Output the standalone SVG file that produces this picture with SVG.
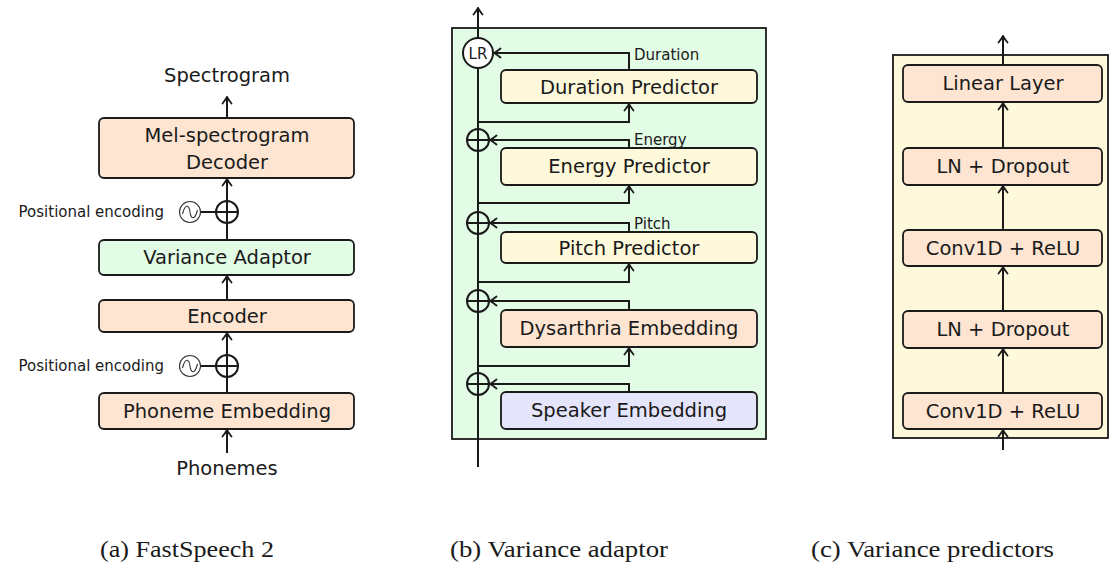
<svg xmlns="http://www.w3.org/2000/svg" width="1110" height="568" viewBox="0 0 1110 568">
  <style>
    .box { stroke: #1a1a1a; stroke-width: 1.8; }
    .orange { fill: #fde5d2; }
    .green { fill: #e2fce5; }
    .yellow { fill: #fff9db; }
    .blue { fill: #e4e4fb; }
    .lbl { font-family: "DejaVu Sans", sans-serif; font-size: 19.5px; fill: #1a1a1a; text-anchor: middle; }
    .small { font-family: "DejaVu Sans", sans-serif; font-size: 15px; fill: #1a1a1a; }
    .cap { font-family: "Liberation Serif", serif; font-size: 24px; fill: #1a1a1a; }
    .wire { stroke: #1a1a1a; stroke-width: 2; fill: none; }
    .arr { stroke: #1a1a1a; stroke-width: 2; fill: none; marker-end: url(#head); }
    .op { stroke: #1a1a1a; stroke-width: 2; fill: none; }
    .sine { stroke: #333; stroke-width: 1.1; fill: #fff; }
  </style>
  <defs>
    <marker id="head" viewBox="-8 -6 9 12" refX="0" refY="0" markerWidth="9" markerHeight="12" markerUnits="userSpaceOnUse" orient="auto">
      <path d="M -6.5 -4.5 Q -2.5 -1.2 0 0 Q -2.5 1.2 -6.5 4.5" fill="none" stroke="#1a1a1a" stroke-width="1.8" stroke-linecap="round"/>
    </marker>
    <g id="oplus">
      <circle r="11" class="op"/>
      <path d="M -11 0 H 11 M 0 -11 V 11" class="op"/>
    </g>
    <g id="sinewave">
      <circle r="10.5" class="sine"/>
      <path d="M -7.5 2 C -5 -8, -1 -8, 0 0 C 1 8, 5 8, 7.5 -2" fill="none" stroke="#333" stroke-width="1.1"/>
    </g>
  </defs>

  <rect width="1110" height="568" fill="#ffffff"/>

  <!-- (a) FastSpeech 2 -->
  <g id="fs2-connectors">
    <path class="arr" d="M 227 118 V 97"/>
    <path class="arr" d="M 227 240 V 179"/>
    <path class="arr" d="M 227 300 V 276"/>
    <path class="arr" d="M 227 393 V 333"/>
    <path class="arr" d="M 227 453 V 430"/>
    <path class="wire" d="M 200 212 H 216 M 200 366 H 216" stroke-width="1.6"/>
  </g>
  <g id="spectrogram-label"><text class="lbl" x="227" y="82" font-size="19">Spectrogram</text></g>
  <g id="mel-decoder">
    <rect class="box orange" x="99" y="118" width="255" height="60" rx="5"/>
    <text class="lbl" x="227" y="142">Mel-spectrogram</text>
    <text class="lbl" x="227" y="169">Decoder</text>
  </g>
  <g id="posenc-top">
    <use href="#oplus" x="227" y="212"/>
    <use href="#sinewave" x="190" y="212"/>
    <text class="small" x="164" y="217" text-anchor="end" font-size="15.5">Positional encoding</text>
  </g>
  <g id="variance-adaptor">
    <rect class="box green" x="99" y="240" width="255" height="35" rx="5"/>
    <text class="lbl" x="227" y="264">Variance Adaptor</text>
  </g>
  <g id="encoder">
    <rect class="box orange" x="99" y="300" width="255" height="32" rx="5"/>
    <text class="lbl" x="227" y="323">Encoder</text>
  </g>
  <g id="posenc-bottom">
    <use href="#oplus" x="227" y="366"/>
    <use href="#sinewave" x="190" y="366"/>
    <text class="small" x="164" y="371" text-anchor="end" font-size="15.5">Positional encoding</text>
  </g>
  <g id="phoneme-embedding">
    <rect class="box orange" x="99" y="393" width="255" height="36" rx="5"/>
    <text class="lbl" x="227" y="418">Phoneme Embedding</text>
  </g>
  <g id="phonemes-label"><text class="lbl" x="227" y="475" font-size="17.5">Phonemes</text></g>

  <!-- (b) Variance adaptor -->
  <g id="adaptor-frame">
    <rect class="box green" x="452" y="28" width="314" height="411"/>
  </g>
  <g id="adaptor-connectors">
    <path class="arr" d="M 478 467 V 8"/>
    <!-- feeds from the main path into each predictor -->
    <path class="arr" d="M 478 122 H 629 V 104"/>
    <path class="arr" d="M 478 203 H 629 V 186"/>
    <path class="arr" d="M 478 282 H 629 V 264"/>
    <path class="arr" d="M 478 366 H 629 V 348"/>
    <!-- predictor outputs back to the main path -->
    <path class="arr" d="M 629 70 V 53 H 494"/>
    <path class="arr" d="M 629 148 V 140 H 490"/>
    <path class="arr" d="M 629 232 V 223 H 490"/>
    <path class="arr" d="M 629 310 V 301 H 490"/>
    <path class="arr" d="M 629 392 V 384 H 490"/>
    <text class="small" x="634" y="60">Duration</text>
    <text class="small" x="634" y="145">Energy</text>
    <text class="small" x="634" y="229">Pitch</text>
  </g>
  <g id="length-regulator">
    <circle cx="478" cy="53" r="15" fill="#ffffff" stroke="#1a1a1a" stroke-width="2"/>
    <text class="small" x="478" y="59" text-anchor="middle" font-size="16">LR</text>
  </g>
  <g id="add-energy"><use href="#oplus" x="478" y="140"/></g>
  <g id="add-pitch"><use href="#oplus" x="478" y="223"/></g>
  <g id="add-dysarthria"><use href="#oplus" x="478" y="301"/></g>
  <g id="add-speaker"><use href="#oplus" x="478" y="384"/></g>
  <g id="duration-predictor">
    <rect class="box yellow" x="501" y="70" width="256" height="33" rx="5"/>
    <text class="lbl" x="629" y="94">Duration Predictor</text>
  </g>
  <g id="energy-predictor">
    <rect class="box yellow" x="501" y="148" width="256" height="37" rx="5"/>
    <text class="lbl" x="629" y="173">Energy Predictor</text>
  </g>
  <g id="pitch-predictor">
    <rect class="box yellow" x="501" y="232" width="256" height="31" rx="5"/>
    <text class="lbl" x="629" y="255">Pitch Predictor</text>
  </g>
  <g id="dysarthria-embedding">
    <rect class="box orange" x="501" y="310" width="256" height="37" rx="5"/>
    <text class="lbl" x="629" y="335">Dysarthria Embedding</text>
  </g>
  <g id="speaker-embedding">
    <rect class="box blue" x="501" y="392" width="256" height="37" rx="5"/>
    <text class="lbl" x="629" y="417">Speaker Embedding</text>
  </g>

  <!-- (c) Variance predictors -->
  <g id="predictor-frame">
    <rect class="box yellow" x="893" y="55" width="215" height="383"/>
  </g>
  <g id="predictor-connectors">
    <path class="arr" d="M 1003 65 V 36"/>
    <path class="arr" d="M 1003 148 V 103"/>
    <path class="arr" d="M 1003 230 V 186"/>
    <path class="arr" d="M 1003 311 V 267"/>
    <path class="arr" d="M 1003 393 V 349"/>
    <path class="arr" d="M 1003 450 V 430"/>
  </g>
  <g id="linear-layer">
    <rect class="box orange" x="903" y="65" width="199" height="37" rx="5"/>
    <text class="lbl" x="1003" y="90">Linear Layer</text>
  </g>
  <g id="ln-dropout-2">
    <rect class="box orange" x="903" y="148" width="199" height="37" rx="5"/>
    <text class="lbl" x="1003" y="173">LN + Dropout</text>
  </g>
  <g id="conv-relu-2">
    <rect class="box orange" x="903" y="230" width="199" height="36" rx="5"/>
    <text class="lbl" x="1003" y="255">Conv1D + ReLU</text>
  </g>
  <g id="ln-dropout-1">
    <rect class="box orange" x="903" y="311" width="199" height="37" rx="5"/>
    <text class="lbl" x="1003" y="336">LN + Dropout</text>
  </g>
  <g id="conv-relu-1">
    <rect class="box orange" x="903" y="393" width="199" height="36" rx="5"/>
    <text class="lbl" x="1003" y="418">Conv1D + ReLU</text>
  </g>

  <!-- sub-figure captions -->
  <g id="captions">
    <text class="cap" x="100" y="557" textLength="174" lengthAdjust="spacingAndGlyphs">(a) FastSpeech 2</text>
    <text class="cap" x="450" y="557" textLength="218" lengthAdjust="spacingAndGlyphs">(b) Variance adaptor</text>
    <text class="cap" x="811" y="557" textLength="243" lengthAdjust="spacingAndGlyphs">(c) Variance predictors</text>
  </g>
</svg>
